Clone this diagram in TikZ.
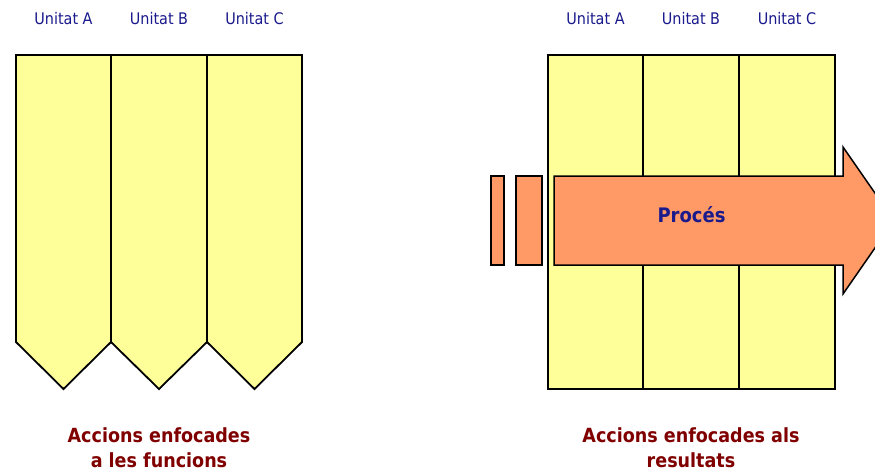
\documentclass[tikz,border=0pt]{standalone}
\usepackage{fontspec}
\setmainfont{DejaVu Sans Condensed}
\definecolor{colfill}{HTML}{FFFF99}
\definecolor{arrfill}{HTML}{FF9966}
\definecolor{navytxt}{HTML}{1A1A8C}
\definecolor{redtxt}{HTML}{800000}
\tikzset{
  column/.style={draw=black, fill=colfill, line width=1.8pt, line join=miter},
  procbox/.style={draw=black, fill=arrfill, line width=1.5pt, line join=miter},
  unitlabel/.style={text=navytxt, font=\fontsize{16}{19}\selectfont, inner sep=0pt},
  caption/.style={text=redtxt, font=\bfseries\fontsize{19.5}{24.5}\selectfont, align=center, inner sep=0pt},
}
\begin{document}
\begin{tikzpicture}[x=1pt,y=-1pt]
\useasboundingbox (0,0) rectangle (875,472);
\clip (0,0) rectangle (875,472);
% left: function-oriented columns
\draw[column] (16,55) -- (111,55) -- (111,342) -- (63.5,389) -- (16,342) -- cycle;
\draw[column] (111,55) -- (207,55) -- (207,342) -- (159,389) -- (111,342) -- cycle;
\draw[column] (207,55) -- (302,55) -- (302,342) -- (254.5,389) -- (207,342) -- cycle;
\node[unitlabel, anchor=base] (la) at (63.5,24.5) {Unitat A};
\node[unitlabel, anchor=base] (lb) at (159,24.5) {Unitat B};
\node[unitlabel, anchor=base] (lc) at (254.5,24.5) {Unitat C};
\node[caption, anchor=base] (capl) at (159,467) {Accions enfocades\\a les funcions};
% right: result-oriented
\draw[column] (548,55) rectangle (643,389);
\draw[column] (643,55) rectangle (739,389);
\draw[column] (739,55) rectangle (835,389);
\node[unitlabel, anchor=base] (ra) at (595.5,24.5) {Unitat A};
\node[unitlabel, anchor=base] (rb) at (691,24.5) {Unitat B};
\node[unitlabel, anchor=base] (rc) at (787,24.5) {Unitat C};
\draw[procbox] (491,176) rectangle (504,265);
\draw[procbox] (516,176) rectangle (542,265);
\draw[procbox] (554,176) -- (843,176) -- (843,147) -- (894,220.5) -- (843,294) -- (843,265) -- (554,265) -- cycle;
\node[text=navytxt, font=\bfseries\fontsize{20}{24}\selectfont, inner sep=0pt] (proc) at (691.5,215) {Procés};
\node[caption, anchor=base] (capr) at (691,467) {Accions enfocades als\\resultats};
\end{tikzpicture}
\end{document}
